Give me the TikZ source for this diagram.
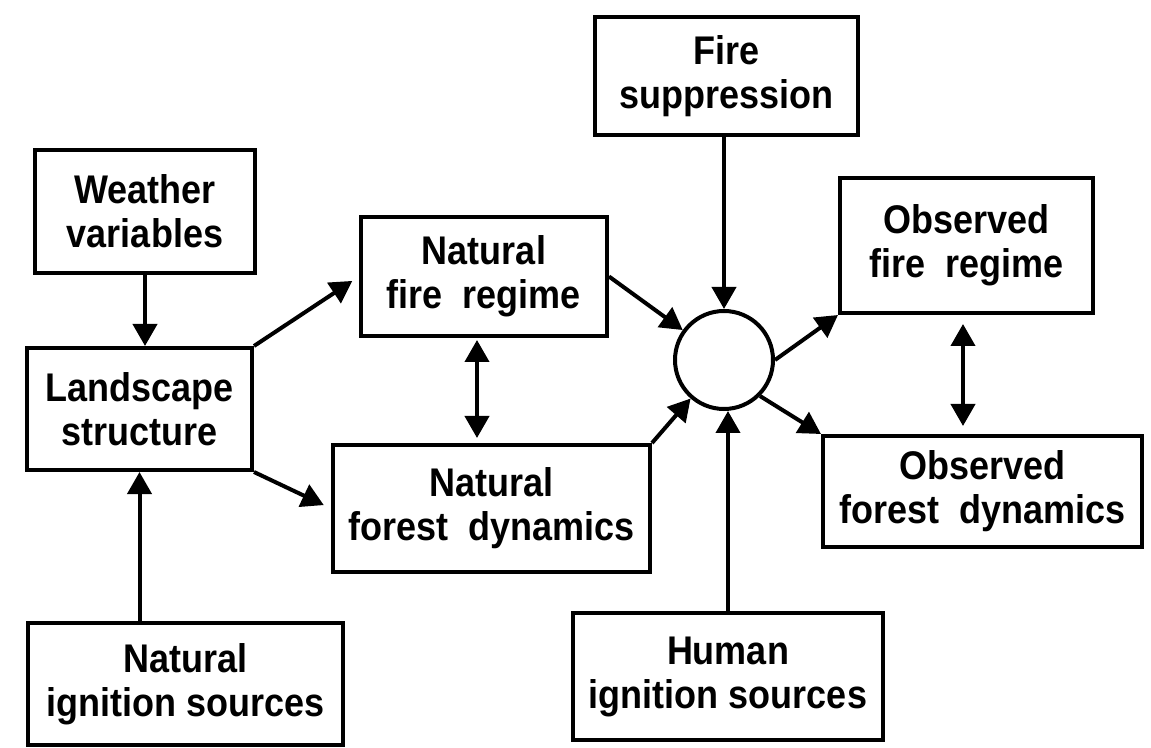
\documentclass[tikz,border=0pt]{standalone}
\usepackage{fontspec}
\setmainfont{Liberation Sans}[FakeStretch=0.9]
\usetikzlibrary{arrows.meta}
\begin{document}
\begin{tikzpicture}[x=0.5pt, y=-0.5pt, line width=2pt,
  >={Triangle[length=11pt,width=12pt]},
  box/.style={draw, align=center, inner sep=0pt, font=\bfseries\fontsize{20}{22}\selectfont}]
  \useasboundingbox (0,0) rectangle (1151,748);
  \node[box, minimum width=110pt, minimum height=61.5pt] (W) at (145,211.5) {Weather\\variables};
  \node[box, minimum width=112.5pt, minimum height=61pt] (L) at (139.5,409) {Landscape\\structure};
  \node[box, minimum width=157.5pt, minimum height=61pt] (NI) at (185.5,684) {Natural\\ignition sources};
  \node[box, minimum width=123pt, minimum height=59.5pt] (NF) at (484,276.5) {Natural\\fire~~regime};
  \node[box, minimum width=158.5pt, minimum height=63.5pt] (ND) at (491.5,508.5) {Natural\\forest~~dynamics};
  \node[box, minimum width=131.5pt, minimum height=59pt] (S) at (726.5,76) {Fire\\suppression};
  \node[draw, circle, minimum size=49pt, inner sep=0pt] (C) at (724,360) {};
  \node[box, minimum width=126.5pt, minimum height=67.5pt] (OF) at (966.5,245.5) {Observed\\fire~~regime};
  \node[box, minimum width=159.5pt, minimum height=55.5pt] (OD) at (982.5,491.5) {Observed\\forest~~dynamics};
  \node[box, minimum width=155pt, minimum height=63.5pt] (HI) at (728,676.5) {Human\\ignition sources};
  \draw[->] (W.south) -- (W.south |- L.north);
  \draw[->] (NI.north -| L.south) -- (L.south);
  \draw[->, shorten >=4pt] (L.north east) -- (NF.west);
  \draw[->, shorten >=4pt] (L.south east) -- (ND.west);
  \draw[<->, shorten <=1pt, shorten >=2.5pt] ([xshift=-3.5pt]NF.south) -- ([xshift=-3.5pt]NF.south |- ND.north);
  \draw[->] (NF.east) -- (C);
  \draw[->] (ND.north east) -- (C);
  \draw[->] (S.south -| C.north) -- (C.north);
  \draw[->] (HI.north) -- (HI.north |- C.south);
  \draw[->] (C.east) -- (OF.south west);
  \draw[->] (C.south east) -- (OD.north west);
  \draw[<->, shorten <=4.5pt, shorten >=4pt] ([xshift=-1.75pt]OF.south) -- ([xshift=-1.75pt]OF.south |- OD.north);
\end{tikzpicture}
\end{document}
